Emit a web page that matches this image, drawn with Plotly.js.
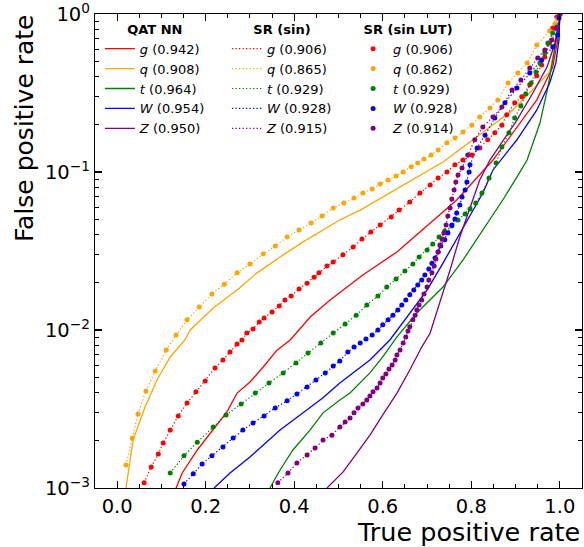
<!DOCTYPE html>
<html>
<head>
<meta charset="utf-8">
<script src="https://cdn.plot.ly/plotly-3.0.1.min.js"></script>
<style>html,body{margin:0;padding:0;background:#fff;}</style>
</head>
<body>
<div id="chart" style="width:584px;height:547px;"></div>
<script>
// ---------- data ----------
const classNames = ['g', 'q', 't', 'W', 'Z'];
const classColors = ['red', 'orange', 'green', 'blue', 'purple'];
const aucQat = ['0.942', '0.908', '0.964', '0.954', '0.950'];
const aucSr  = ['0.906', '0.865', '0.929', '0.928', '0.915'];
const aucLut = ['0.906', '0.862', '0.929', '0.928', '0.914'];
const groupTitles = ['QAT NN', 'SR (sin)', 'SR (sin LUT)'];

// QAT NN (solid)
const qatTprG = [0.133,0.147,0.181,0.217,0.248,0.271,0.300,0.330,0.361,0.391,0.436,0.481,0.555,0.632,0.707,0.767,0.849,0.894,0.948,0.984,0.998,1.0];
const qatFprG = [0.001,0.001245,0.00174,0.00233,0.00303,0.00399,0.00469,0.00583,0.00746,0.00865,0.01208,0.01549,0.0223,0.0312,0.0475,0.0665,0.119,0.177,0.286,0.462,0.759,1.0];
const qatTprQ = [0.020,0.036,0.063,0.090,0.120,0.153,0.165,0.217,0.271,0.316,0.368,0.420,0.503,0.549,0.736,0.797,0.894,0.977,0.995,1.0];
const qatFprQ = [0.001,0.00201,0.00326,0.00483,0.00675,0.00865,0.0100,0.01377,0.0179,0.0230,0.0290,0.0361,0.0497,0.0574,0.1156,0.155,0.247,0.430,0.759,1.0];
const qatTprT = [0.345,0.368,0.397,0.436,0.465,0.503,0.526,0.571,0.600,0.632,0.677,0.736,0.781,0.826,0.871,0.903,0.926,0.955,0.973,0.984,0.995,1.0];
const qatFprT = [0.001,0.0013,0.00174,0.00233,0.00299,0.00361,0.00399,0.00535,0.00675,0.00904,0.0128,0.0187,0.0277,0.0430,0.0665,0.0929,0.119,0.204,0.345,0.512,0.759,1.0];
const qatTprW = [0.219,0.255,0.300,0.368,0.420,0.465,0.503,0.526,0.571,0.616,0.661,0.700,0.736,0.774,0.804,0.826,0.849,0.903,0.948,0.977,0.991,0.998,1.0];
const qatFprW = [0.001,0.001245,0.00157,0.00233,0.00299,0.00372,0.00462,0.00519,0.00646,0.00865,0.0128,0.0179,0.0265,0.0411,0.0574,0.0736,0.103,0.160,0.247,0.366,0.490,0.684,1.0];
const qatTprZ = [0.474,0.510,0.542,0.571,0.600,0.632,0.661,0.688,0.707,0.729,0.752,0.774,0.797,0.819,0.842,0.858,0.903,0.939,0.971,0.989,0.999,1.0];
const qatFprZ = [0.001,0.00126,0.00167,0.00216,0.00290,0.00399,0.00558,0.00780,0.00957,0.0148,0.0240,0.0388,0.0600,0.0889,0.119,0.138,0.213,0.316,0.462,0.655,0.916,1.0];

// SR (sin) (dotted) -- the SR (sin LUT) points coincide with these in the picture
const srTprG = [0.061,0.077,0.093,0.104,0.120,0.138,0.158,0.178,0.199,0.221,0.239,0.255,0.271,0.282,0.293,0.307,0.321,0.332,0.350,0.366,0.379,0.393,0.411,0.429,0.445,0.456,0.474,0.488,0.510,0.533,0.553,0.573,0.594,0.619,0.637,0.661,0.684,0.707,0.725,0.745,0.763,0.781,0.801,0.819,0.837,0.853,0.869,0.880,0.898,0.914,0.932,0.948,0.959,0.966,0.977,0.984,0.993,1.0];
const srFprG = [0.00108,0.00136,0.00164,0.00193,0.00233,0.00286,0.00345,0.00406,0.00475,0.00574,0.00646,0.00726,0.00815,0.00865,0.00957,0.01014,0.01125,0.0119,0.0130,0.0142,0.0155,0.0164,0.0182,0.0198,0.0216,0.0230,0.0254,0.0269,0.0299,0.0335,0.0377,0.0417,0.0462,0.0519,0.0574,0.0646,0.0736,0.0828,0.0916,0.100,0.111,0.119,0.128,0.142,0.160,0.177,0.198,0.230,0.274,0.299,0.356,0.406,0.475,0.535,0.655,0.815,0.957,1.0];
const srTprQ = [0.020,0.034,0.047,0.065,0.086,0.111,0.133,0.158,0.185,0.214,0.242,0.271,0.300,0.330,0.357,0.384,0.411,0.438,0.463,0.488,0.512,0.535,0.555,0.576,0.594,0.612,0.630,0.646,0.664,0.679,0.693,0.709,0.725,0.745,0.763,0.781,0.801,0.819,0.842,0.860,0.883,0.905,0.926,0.948,0.977,0.989,0.995,1.0];
const srFprQ = [0.00140,0.00207,0.00294,0.00411,0.00551,0.00746,0.00929,0.0116,0.0140,0.0169,0.0195,0.0230,0.0262,0.0303,0.0340,0.0388,0.0430,0.0475,0.0527,0.0592,0.0637,0.0684,0.0736,0.0780,0.0839,0.0889,0.0944,0.100,0.108,0.114,0.121,0.128,0.138,0.153,0.164,0.179,0.198,0.223,0.254,0.286,0.366,0.424,0.490,0.637,0.780,0.865,0.930,1.0];
const srTprT = [0.120,0.151,0.181,0.217,0.246,0.280,0.312,0.343,0.375,0.404,0.431,0.460,0.488,0.515,0.540,0.564,0.589,0.609,0.630,0.650,0.668,0.682,0.700,0.713,0.727,0.740,0.756,0.770,0.786,0.797,0.810,0.824,0.840,0.856,0.869,0.885,0.898,0.912,0.923,0.935,0.946,0.955,0.966,0.973,0.984,0.993,1.0];
const srFprT = [0.001245,0.00160,0.00195,0.00243,0.00290,0.00340,0.00399,0.00462,0.00535,0.00618,0.00714,0.00828,0.00957,0.0109,0.0124,0.0144,0.0164,0.0187,0.0210,0.0236,0.0262,0.0290,0.0321,0.0350,0.0388,0.0424,0.0455,0.0497,0.0542,0.0583,0.0637,0.0736,0.0916,0.114,0.144,0.177,0.220,0.262,0.312,0.366,0.430,0.490,0.566,0.655,0.759,0.828,1.0];
const srTprW = [0.151,0.172,0.192,0.214,0.239,0.262,0.284,0.307,0.332,0.357,0.384,0.406,0.429,0.449,0.470,0.488,0.503,0.521,0.535,0.549,0.562,0.576,0.589,0.600,0.612,0.623,0.634,0.643,0.652,0.661,0.670,0.679,0.688,0.695,0.704,0.711,0.718,0.725,0.731,0.740,0.747,0.756,0.763,0.767,0.774,0.779,0.786,0.790,0.795,0.797,0.813,0.831,0.853,0.876,0.903,0.932,0.959,0.984,0.995,0.998,1.0];
const srFprW = [0.00106,0.00123,0.00142,0.00160,0.00182,0.00207,0.00233,0.00258,0.00286,0.00321,0.00356,0.00394,0.00436,0.00483,0.00535,0.00592,0.00637,0.00726,0.00780,0.00828,0.00877,0.00929,0.0100,0.0108,0.0116,0.0124,0.0134,0.0144,0.0155,0.0167,0.0179,0.0193,0.0207,0.0223,0.0243,0.0265,0.0286,0.0312,0.0340,0.0372,0.0411,0.0462,0.0505,0.0551,0.0618,0.0695,0.0769,0.0865,0.100,0.111,0.142,0.171,0.220,0.274,0.340,0.424,0.512,0.618,0.736,0.944,1.0];
const srTprZ = [0.363,0.386,0.406,0.429,0.447,0.465,0.485,0.503,0.515,0.526,0.535,0.544,0.555,0.564,0.571,0.578,0.587,0.594,0.600,0.607,0.614,0.621,0.628,0.632,0.639,0.646,0.652,0.657,0.661,0.668,0.673,0.677,0.682,0.688,0.693,0.700,0.704,0.711,0.716,0.720,0.725,0.729,0.734,0.738,0.743,0.747,0.752,0.756,0.761,0.765,0.770,0.779,0.792,0.808,0.826,0.849,0.869,0.892,0.912,0.932,0.950,0.966,0.982,0.993,1.0];
const srFprZ = [0.00108,0.001245,0.00144,0.00162,0.00179,0.00201,0.00216,0.00243,0.00262,0.00277,0.00299,0.00321,0.00340,0.00361,0.00382,0.00406,0.00430,0.00462,0.00497,0.00527,0.00566,0.00600,0.00646,0.00695,0.00746,0.00828,0.00904,0.00986,0.0105,0.0116,0.0124,0.0134,0.0144,0.0155,0.0169,0.0187,0.0207,0.0230,0.0254,0.0281,0.0312,0.0345,0.0377,0.0411,0.0462,0.0527,0.0592,0.0675,0.0769,0.0865,0.0957,0.106,0.128,0.160,0.193,0.223,0.258,0.330,0.382,0.455,0.527,0.592,0.684,0.815,1.0];

// SR (sin LUT) (markers): same points as SR (sin) at this resolution
const lutTpr = [srTprG, srTprQ, srTprT, srTprW, srTprZ];
const lutFpr = [srFprG, srFprQ, srFprT, srFprW, srFprZ];

const qatTpr = [qatTprG, qatTprQ, qatTprT, qatTprW, qatTprZ];
const qatFpr = [qatFprG, qatFprQ, qatFprT, qatFprW, qatFprZ];
const srTpr = [srTprG, srTprQ, srTprT, srTprW, srTprZ];
const srFpr = [srFprG, srFprQ, srFprT, srFprW, srFprZ];

const yTickVals = [0.001, 0.01, 0.1, 1];
const yTickText = ['10<sup>\u22123</sup>', '10<sup>\u22122</sup>', '10<sup>\u22121</sup>', '10<sup>0</sup>'];

// ---------- traces ----------
const label = (i, auc) => '<i>' + classNames[i] + '</i> (' + auc + ')';
const traces = [];
for (let i = 0; i < 5; i++) {
  traces.push({
    x: qatTpr[i], y: qatFpr[i], type: 'scatter', mode: 'lines',
    name: label(i, aucQat[i]), legend: 'legend',
    line: {color: classColors[i], width: 1.3}, hoverinfo: 'skip'
  });
}
for (let i = 0; i < 5; i++) {
  traces.push({
    x: srTpr[i], y: srFpr[i], type: 'scatter', mode: 'lines',
    name: label(i, aucSr[i]), legend: 'legend2',
    line: {color: classColors[i], width: 1.2, dash: '1.3px,2.2px'}, hoverinfo: 'skip'
  });
}
for (let i = 0; i < 5; i++) {
  traces.push({
    x: lutTpr[i], y: lutFpr[i], type: 'scatter', mode: 'markers',
    name: label(i, aucLut[i]), legend: 'legend3',
    marker: {color: classColors[i], size: 5, line: {width: 0}}, hoverinfo: 'skip'
  });
}

const FONT = 'DejaVu Sans, Liberation Sans, sans-serif';
const legendBase = (x, title) => ({
  x: x, xanchor: 'left', y: 0.994, yanchor: 'top',
  bgcolor: 'rgba(0,0,0,0)', borderwidth: 0,
  font: {family: FONT, size: 13, color: 'black'},
  title: {text: '<b>' + title + '</b>', side: 'top center', font: {family: FONT, size: 13, color: 'black'}},
  tracegroupgap: 0, itemclick: false, itemdoubleclick: false
});

const axisCommon = {
  showline: true, linecolor: 'black', linewidth: 1.2, mirror: 'allticks',
  ticks: 'inside', ticklen: 7, tickwidth: 1.2, tickcolor: 'black',
  showgrid: false, zeroline: false, ticklabeloverflow: 'allow',
  tickfont: {family: FONT, size: 19.5, color: 'black'}
};

const layout = {
  width: 584, height: 547,
  margin: {l: 95, r: 2, t: 14, b: 59},
  paper_bgcolor: 'white', plot_bgcolor: 'white',
  font: {family: FONT, size: 13, color: 'black'},
  showlegend: true,
  xaxis: Object.assign({}, axisCommon, {
    range: [-0.05, 1.05], tickmode: 'linear', tick0: 0, dtick: 0.2, tickformat: '.1f',
    minor: {tick0: 0, dtick: 0.05, ticks: 'inside', ticklen: 4, tickwidth: 1, tickcolor: 'black', showgrid: false}
  }),
  yaxis: Object.assign({}, axisCommon, {
    type: 'log', range: [-3, 0], tickmode: 'array', tickvals: yTickVals, ticktext: yTickText,
    minor: {dtick: 'D1', ticks: 'inside', ticklen: 4, tickwidth: 1, tickcolor: 'black', showgrid: false}
  }),
  legend: legendBase(0.010, groupTitles[0]),
  legend2: legendBase(0.271, groupTitles[1]),
  legend3: legendBase(0.530, groupTitles[2]),
  annotations: [
    {xref: 'paper', yref: 'paper', x: 1, xanchor: 'right', y: -0.093, yanchor: 'middle',
     text: 'True positive rate', showarrow: false, font: {family: FONT, size: 25.5, color: 'black'}},
    {xref: 'paper', yref: 'paper', x: -0.146, xanchor: 'center', y: 1.004, yanchor: 'top', textangle: -90,
     text: 'False positive rate', showarrow: false, font: {family: FONT, size: 25, color: 'black'}}
  ]
};

Plotly.newPlot('chart', traces, layout, {displayModeBar: false, staticPlot: true});
</script>
</body>
</html>
